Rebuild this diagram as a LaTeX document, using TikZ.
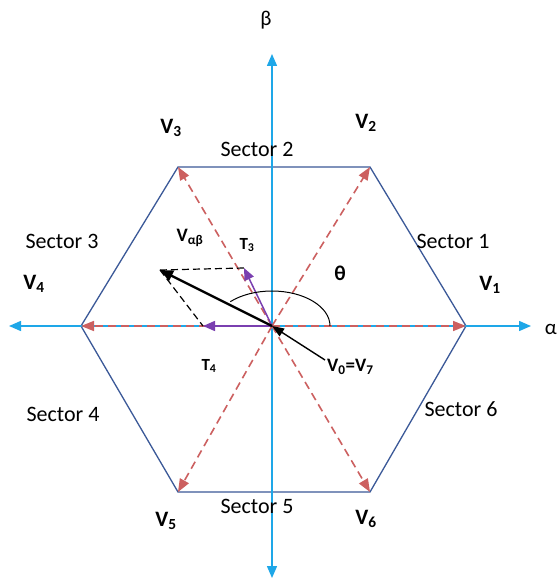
\documentclass[tikz,border=0pt]{standalone}
\usepackage{fontspec}
\setmainfont{Carlito}
\usetikzlibrary{arrows.meta}
\definecolor{hexblue}{HTML}{3B5998}
\definecolor{axisblue}{HTML}{1EA7E8}
\definecolor{dashred}{HTML}{CC6060}
\definecolor{tpurple}{HTML}{7A3FB0}
\tikzset{
  axis/.style={draw=axisblue, line width=1.5pt, -{Triangle[length=12pt,width=10pt]}},
  hexline/.style={draw=hexblue, line width=1.3pt},
  vecred/.style={draw=dashred, line width=1.6pt, dash pattern=on 8pt off 5pt, -{Triangle[length=13pt,width=10pt]}},
  tvec/.style={draw=tpurple, line width=1.5pt, -{Triangle[length=12pt,width=10pt]}},
  helper/.style={draw=black, line width=1.2pt, dash pattern=on 7pt off 4pt},
  vlab/.style={font=\fontsize{22}{26}\selectfont\bfseries, inner sep=0pt},
  slab/.style={font=\fontsize{22}{26}\selectfont, inner sep=0pt},
}
\begin{document}
\begin{tikzpicture}[x=1pt,y=-1pt]
\clip (0,0) rectangle (557,578);
\fill[white] (0,0) rectangle (557,578);
% key points
\coordinate (O) at (272,326);
\coordinate (H1) at (466,326);
\coordinate (H2) at (370,167);
\coordinate (H3) at (178,167);
\coordinate (H4) at (81,326);
\coordinate (H5) at (178,492);
\coordinate (H6) at (370,492);
\coordinate (AxL) at (9,326);
\coordinate (AxR) at (531,326);
\coordinate (AxT) at (272,54);
\coordinate (AxB) at (272,578);
\coordinate (Vab) at (160,270);
\coordinate (T3) at (244,268);
\coordinate (T4) at (203,326);
\coordinate (Vz) at (325,360);
% hexagon
\draw[hexline] (H1) -- (H2) -- (H3) -- (H4) -- (H5) -- (H6) -- cycle;
% axes
\draw[axis] (O) -- (AxR);
\draw[axis] (O) -- (AxL);
\draw[axis] (O) -- (AxT);
\draw[axis] (O) -- (AxB);
% red dashed vectors
\foreach \v in {H1,H2,H3,H4,H5,H6} \draw[vecred] (O) -- (\v);
% helper dashed
\draw[helper] (Vab) -- (T3);
\draw[helper] (Vab) -- (T4);
% purple T vectors
\draw[tvec] (O) -- (T3);
\draw[tvec] (O) -- (T4);
% V alpha beta
\draw[black, line width=2.4pt, -{Triangle[length=13pt,width=11pt]}] (O) -- (Vab);
\draw[black, line width=1.4pt, -{Triangle[length=12pt,width=9pt]}] (Vz) -- (O);
% angle arc
\draw[black, line width=1pt] (330,326) arc[start angle=0, end angle=-136, x radius=58, y radius=35];
% labels
\node[font=\fontsize{21}{25}\selectfont] (beta) at (266,20) {β};
\node[font=\fontsize{21}{25}\selectfont, anchor=east, inner sep=0pt] (alpha) at (557,329) {α};
\node[vlab] (lV1) at (490,285) {V\textsubscript{1}};
\node[vlab] (lV2) at (366,123) {V\textsubscript{2}};
\node[vlab] (lV3) at (171,128) {V\textsubscript{3}};
\node[vlab] (lV4) at (34,284) {V\textsubscript{4}};
\node[vlab] (lV5) at (166,521) {V\textsubscript{5}};
\node[vlab] (lV6) at (366,519) {V\textsubscript{6}};
\node[slab] (s1) at (453,241) {Sector 1};
\node[slab] (s2) at (257,149) {Sector 2};
\node[slab] (s3) at (62,241) {Sector 3};
\node[slab] (s4) at (63,414) {Sector 4};
\node[slab] (s5) at (257,506) {Sector 5};
\node[slab] (s6) at (461,409) {Sector 6};
\node[vlab, font=\fontsize{19}{22}\selectfont\bfseries] (lVab) at (190,238) {V\textsubscript{αβ}};
\node[vlab, font=\fontsize{17}{20}\selectfont\bfseries] (lT3) at (247,245) {T\textsubscript{3}};
\node[vlab, font=\fontsize{17}{20}\selectfont\bfseries] (lT4) at (209,366) {T\textsubscript{4}};
\node[vlab, font=\fontsize{19}{22}\selectfont\bfseries, anchor=west] (lV0) at (327,367) {V\textsubscript{0}=V\textsubscript{7}};
\node[vlab, font=\fontsize{21}{24}\selectfont\bfseries] (th) at (340,273) {θ};
\end{tikzpicture}
\end{document}
